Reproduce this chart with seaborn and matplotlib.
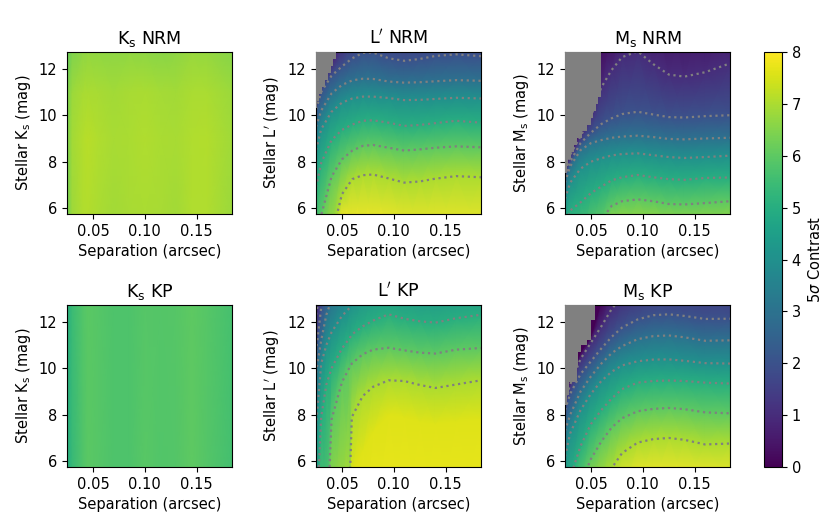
import numpy as np
import matplotlib
matplotlib.use('Agg')
import matplotlib.pyplot as plt
from matplotlib.cm import ScalarMappable
from matplotlib.colors import Normalize
import seaborn as sns

ks_sep = [0.025, 0.03, 0.04, 0.045, 0.055, 0.07, 0.085, 0.10, 0.115, 0.13, 0.145, 0.16, 0.184]
ks_nrm_mag = [5.75, 9.0, 11.0, 12.75]
ks_nrm_contrast = [
    [6.30, 6.84, 7.04, 7.09, 6.99, 6.89, 6.94, 6.99, 6.94, 6.89, 7.04, 7.04, 6.80],
    [6.40, 6.89, 7.09, 7.14, 7.04, 6.94, 6.99, 7.04, 6.99, 6.94, 7.06, 7.09, 6.85],
    [6.40, 6.80, 6.96, 6.99, 6.94, 6.89, 6.94, 6.99, 6.92, 6.89, 6.99, 6.99, 6.80],
    [6.15, 6.45, 6.65, 6.70, 6.67, 6.65, 6.67, 6.65, 6.57, 6.63, 6.75, 6.73, 6.55],
]
ks_kp_mag = [5.75, 12.75]
ks_kp_contrast = [
    [4.95, 5.40, 5.80, 5.95, 5.90, 5.75, 5.75, 5.92, 5.82, 5.85, 6.00, 5.85, 5.60],
    [5.00, 5.45, 5.82, 5.95, 5.90, 5.78, 5.78, 5.90, 5.85, 5.88, 6.00, 5.90, 5.65],
]

# L' and Ms panels: stellar mag at which the contrast reaches each level, per separation
nrm_sep = [0.025, 0.03, 0.04, 0.05, 0.06, 0.07, 0.08, 0.095, 0.11, 0.125, 0.14, 0.16, 0.184]

lp_nrm_levels = [8, 7, 6, 5, 4, 3, 2, 1, 0]
lp_nrm_mag = [
    [1.5, 2.0, 3.5, 5.4, 5.1, 5.0, 5.0, 5.0, 4.8, 4.7, 4.7, 4.6, 4.6],
    [3.0, 3.5, 4.8, 6.6, 7.25, 7.42, 7.45, 7.28, 7.10, 7.15, 7.27, 7.38, 7.33],
    [4.5, 5.7, 7.36, 8.10, 8.48, 8.68, 8.72, 8.60, 8.48, 8.53, 8.60, 8.66, 8.62],
    [6.9, 7.95, 8.93, 9.37, 9.60, 9.76, 9.78, 9.68, 9.54, 9.58, 9.66, 9.76, 9.68],
    [8.5, 9.4, 10.15, 10.54, 10.72, 10.80, 10.80, 10.74, 10.65, 10.66, 10.70, 10.75, 10.72],
    [9.5, 10.2, 10.94, 11.30, 11.50, 11.57, 11.56, 11.45, 11.40, 11.42, 11.46, 11.51, 11.48],
    [10.25, 11.0, 11.70, 12.10, 12.45, 12.68, 12.70, 12.45, 12.34, 12.42, 12.55, 12.62, 12.54],
    [10.5, 11.3, 12.2, 13.0, 13.8, 14.3, 14.5, 14.5, 14.5, 14.5, 14.5, 14.5, 14.5],
    [16.0, 16.0, 16.0, 16.0, 16.0, 16.0, 16.0, 16.0, 16.0, 16.0, 16.0, 16.0, 16.0],
]
lp_nrm_contours = [7, 6, 5, 4, 3, 2]
lp_nrm_gray_mag = [10.3, 10.6, 10.9, 11.2, 11.5, 11.8, 12.1, 12.4, 12.75]
lp_nrm_gray_sep = [0.0255, 0.028, 0.031, 0.034, 0.037, 0.039, 0.041, 0.044, 0.044]

ms_nrm_levels = [7, 6, 5, 4, 3, 2, 1, 0, 0]
ms_nrm_mag = [
    [1.0, 2.0, 3.0, 4.0, 4.5, 5.0, 5.0, 5.0, 5.0, 4.9, 4.9, 4.9, 4.9],
    [2.0, 3.0, 4.0, 5.0, 5.5, 6.1, 6.3, 6.38, 6.3, 6.18, 6.16, 6.22, 6.3],
    [5.2, 5.9, 6.25, 6.65, 6.93, 7.2, 7.33, 7.43, 7.33, 7.25, 7.22, 7.3, 7.32],
    [6.4, 7.1, 7.7, 8.0, 8.15, 8.27, 8.33, 8.36, 8.28, 8.2, 8.16, 8.2, 8.26],
    [7.1, 7.8, 8.5, 8.8, 8.93, 9.03, 9.08, 9.12, 9.06, 8.98, 8.96, 9.0, 9.03],
    [7.35, 8.0, 8.8, 9.25, 9.62, 9.87, 10.05, 10.15, 10.03, 9.92, 9.9, 9.96, 10.0],
    [7.6, 8.3, 9.1, 9.95, 11.2, 11.95, 12.5, 12.75, 12.2, 11.75, 11.66, 11.85, 12.23],
    [8.0, 8.6, 9.5, 10.2, 13.5, 14.0, 14.5, 14.8, 15.0, 15.0, 15.0, 15.0, 15.0],
    [16.0, 16.0, 16.0, 16.0, 16.0, 16.0, 16.0, 16.0, 16.0, 16.0, 16.0, 16.0, 16.0],
]
ms_nrm_contours = [6, 5, 4, 3, 2, 1]
ms_nrm_gray_mag = [7.2, 7.5, 7.8, 8.1, 8.4, 8.7, 9.0, 9.3, 9.6, 9.9, 10.2, 10.5, 10.8, 12.75]
ms_nrm_gray_sep = [0.025, 0.0265, 0.028, 0.031, 0.034, 0.037, 0.0415, 0.046, 0.05, 0.052,
                   0.055, 0.0565, 0.0597, 0.0597]

kp_sep = [0.025, 0.03, 0.035, 0.04, 0.05, 0.0575, 0.0595, 0.07, 0.08, 0.095, 0.11, 0.125, 0.14, 0.16, 0.184]
lp_kp_levels = [7.8, 7.6, 7, 6, 5, 4, 3, 2, 1]
lp_kp_mag = [
    [-1, -1, -1, -1, 1, 2, 3, 3, 3, 3, 3, 3, 3, 3, 3],
    [0.3, 0.6, 1.0, 1.5, 3.0, 4.5, 5.5, 6.5, 7.3, 8.0, 7.9, 7.7, 7.6, 7.7, 7.8],
    [1.0, 1.5, 2.0, 2.5, 4.0, 5.0, 7.9, 8.8, 9.2, 9.48, 9.45, 9.28, 9.15, 9.3, 9.48],
    [2.0, 2.3, 2.5, 7.8, 9.4, 10.05, 10.2, 10.6, 10.8, 10.88, 10.77, 10.67, 10.63, 10.8, 10.87],
    [3.0, 7.9, 9.3, 10.0, 10.85, 11.3, 11.45, 11.8, 12.05, 12.32, 12.13, 12.02, 11.96, 12.15, 12.3],
    [7.5, 10.2, 11.0, 11.55, 12.25, 12.6, 12.75, 13.3, 13.6, 13.8, 13.7, 13.6, 13.6, 13.7, 13.8],
    [9.8, 11.2, 12.3, 12.95, 13.5, 13.9, 14.0, 14.4, 14.6, 15.0, 15.0, 15.0, 15.0, 15.0, 15.0],
    [10.7, 12.6, 13.3, 13.7, 14.2, 14.5, 14.6, 15.0, 15.2, 15.5, 15.5, 15.5, 15.5, 15.5, 15.5],
    [12.3, 13.6, 14.2, 14.5, 15.0, 15.3, 15.4, 15.8, 16.0, 16.5, 16.5, 16.5, 16.5, 16.5, 16.5],
]
lp_kp_contours = [7, 6, 5, 4, 3, 2, 1]

ms_kp_levels = [8, 7, 6, 5, 4, 3, 2, 1, 0, 0]
ms_kp_mag = [
    [1.0, 1.5, 2.5, 3.0, 3.5, 4.0, 4.5, 5.0, 5.0, 5.0, 5.0, 5.0, 4.9],
    [2.0, 2.5, 3.5, 4.5, 5.0, 5.7, 6.35, 6.8, 6.95, 7.0, 6.92, 6.72, 6.76],
    [3.5, 4.0, 5.0, 6.1, 6.85, 7.45, 7.85, 8.15, 8.25, 8.29, 8.24, 8.1, 8.06],
    [4.5, 5.3, 6.65, 7.6, 8.2, 8.7, 9.1, 9.38, 9.45, 9.47, 9.45, 9.38, 9.34],
    [6.2, 7.2, 8.2, 8.9, 9.45, 9.85, 10.12, 10.3, 10.37, 10.38, 10.32, 10.22, 10.2],
    [7.3, 8.0, 9.0, 9.65, 10.2, 10.65, 10.95, 11.25, 11.38, 11.41, 11.33, 11.18, 11.2],
    [8.2, 8.9, 9.75, 10.3, 10.85, 11.35, 11.75, 12.1, 12.28, 12.32, 12.25, 12.12, 12.13],
    [8.6, 9.3, 10.4, 11.1, 11.8, 12.55, 13.1, 13.6, 13.9, 14.0, 14.0, 14.0, 14.0],
    [9.0, 9.6, 10.7, 11.4, 12.9, 14.0, 14.6, 15.0, 16.0, 16.0, 16.0, 16.0, 16.0],
    [17.0, 17.0, 17.0, 17.0, 17.0, 17.0, 17.0, 17.0, 17.0, 17.0, 17.0, 17.0, 17.0],
]
ms_kp_contours = [7, 6, 5, 4, 3, 2, 1]
ms_kp_gray_mag = [8.4, 8.84, 9.4, 10.05, 10.7, 11.0, 11.2, 12.06, 12.75]
ms_kp_gray_sep = [0.027, 0.0285, 0.0365, 0.038, 0.0405, 0.046, 0.05, 0.0535, 0.0535]

sns.set_style('ticks', rc={
    'axes.edgecolor': 'black', 'text.color': 'black', 'axes.labelcolor': 'black',
    'xtick.color': 'black', 'ytick.color': 'black', 'font.family': ['DejaVu Sans'],
})
plt.rcParams['font.size'] = 10.5
plt.rcParams['axes.labelsize'] = 10.5
plt.rcParams['xtick.labelsize'] = 10.5
plt.rcParams['ytick.labelsize'] = 10.5
cmap = sns.color_palette('viridis', as_cmap=True)
VMIN, VMAX = 0, 8
X_LIM = (0.025, 0.184)
Y_LIM = (5.75, 12.72)

fig = plt.figure(figsize=(8.3, 5.19))


def pixel_axes(x0, x1, y0, y1):
    return fig.add_axes([x0 / 830, 1 - y1 / 519, (x1 - x0) / 830, (y1 - y0) / 519])


def draw_panel(ax, sep, mags, values, title, band, contours=None, gray=None):
    sep = np.array(sep)
    mags = np.array(mags, dtype=float)
    values = np.array(values, dtype=float)
    xx = np.tile(sep, (mags.shape[0], 1))
    ax.pcolormesh(xx, mags, values, shading='gouraud', cmap=cmap, vmin=VMIN, vmax=VMAX, zorder=1)
    if contours is not None:
        for i, level in enumerate(values[:, 0]):
            if level in contours:
                sns.lineplot(x=sep, y=mags[i], sort=False, estimator=None, color='gray',
                             linestyle=':', linewidth=1.6, ax=ax, zorder=2, legend=False)
    if gray is not None:
        ax.fill_betweenx(gray[0], X_LIM[0], gray[1], step='post', color='#808080', lw=0, zorder=3)
    ax.set_xlim(*X_LIM)
    ax.set_ylim(*Y_LIM)
    ax.set_xticks([0.05, 0.10, 0.15])
    ax.set_yticks([6, 8, 10, 12])
    ax.set_title(title, fontsize=12.6)
    ax.set_xlabel('Separation (arcsec)')
    ax.set_ylabel('Stellar ' + band + ' (mag)')


def level_grid(levels, n_sep):
    return np.tile(np.array(levels, dtype=float)[:, None], (1, n_sep))


KS = r'K$_{\rm s}$'
LP = r'L$^{\prime}$'
MS = r'M$_{\rm s}$'

draw_panel(pixel_axes(67, 232, 52, 214), ks_sep,
           np.tile(np.array(ks_nrm_mag)[:, None], (1, len(ks_sep))), ks_nrm_contrast, KS + ' NRM', KS)
draw_panel(pixel_axes(316, 481, 52, 214), nrm_sep, lp_nrm_mag,
           level_grid(lp_nrm_levels, len(nrm_sep)), LP + ' NRM', LP,
           contours=lp_nrm_contours, gray=(lp_nrm_gray_mag, lp_nrm_gray_sep))
draw_panel(pixel_axes(565, 730, 52, 214), nrm_sep, ms_nrm_mag,
           level_grid(ms_nrm_levels, len(nrm_sep)), MS + ' NRM', MS,
           contours=ms_nrm_contours, gray=(ms_nrm_gray_mag, ms_nrm_gray_sep))
draw_panel(pixel_axes(67, 232, 305, 467), ks_sep,
           np.tile(np.array(ks_kp_mag)[:, None], (1, len(ks_sep))), ks_kp_contrast, KS + ' KP', KS)
draw_panel(pixel_axes(316, 481, 305, 467), kp_sep, lp_kp_mag,
           level_grid(lp_kp_levels, len(kp_sep)), LP + ' KP', LP,
           contours=lp_kp_contours)
draw_panel(pixel_axes(565, 730, 305, 467), nrm_sep, ms_kp_mag,
           level_grid(ms_kp_levels, len(nrm_sep)), MS + ' KP', MS,
           contours=ms_kp_contours, gray=(ms_kp_gray_mag, ms_kp_gray_sep))

cax = pixel_axes(764, 782, 52, 467)
cbar = fig.colorbar(ScalarMappable(Normalize(VMIN, VMAX), cmap), cax=cax)
cbar.set_ticks(range(0, 9))
cbar.set_label(r'5$\sigma$ Contrast')

fig.savefig('out.png', dpi=100)
